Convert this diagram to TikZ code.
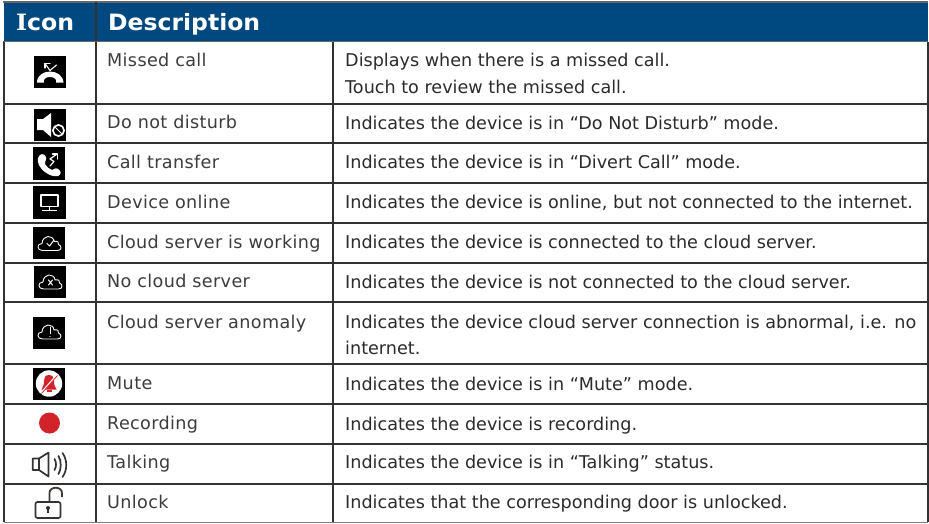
\documentclass[tikz,border=0pt]{standalone}
\usepackage{graphicx}
\usepackage{fontspec}
\setmainfont{DejaVu Sans}
\newfontfamily\serifcap[Scale=1]{DejaVu Serif}
\newfontfamily\spaced[LetterSpace=2]{DejaVu Sans}
\definecolor{hdr}{HTML}{004880}
\definecolor{ln}{HTML}{333132}
\definecolor{txt}{HTML}{2B2B2B}
\definecolor{txtb}{HTML}{3C3C3C}
\definecolor{redc}{HTML}{D2232A}
\newcommand{\fitw}[2]{\resizebox{#1pt}{\height}{#2}}
\tikzset{
 gridline/.style={ln,line width=2pt},
 hd/.style={anchor=base west,text=white,font=\fontsize{22.5}{26}\bfseries,inner sep=0pt},
 cell/.style={anchor=base west,text=txt,font=\fontsize{17.6}{20}\selectfont,inner sep=0pt},
 itemname/.style={anchor=base west,text=txtb,font=\fontsize{17.6}{20}\spaced,inner sep=0pt},
 ibox/.style={fill=black,draw=none},
 wl/.style={draw=white,line width=1pt,line cap=round,line join=round},
 wf/.style={fill=white,draw=none},
 dk/.style={ln,line width=1.7pt,line cap=round,line join=round},
 cloudshape/.pic={\draw[wl,line width=.9pt,fill=black] (-7,7) .. controls (-13,7) and (-13,0) .. (-7.5,0) .. controls (-7,-9) and (4,-9) .. (4.5,-2) .. controls (8,-3) and (10,-1) .. (9,1) .. controls (12.5,2) and (12.5,7) .. (8,7) -- cycle;}
}
\begin{document}
\begin{tikzpicture}[x=1pt,y=-1pt]
\useasboundingbox (0,0) rectangle (929,523);
\fill[white] (0,0) rectangle (929,523);
\fill[hdr] (4,2) rectangle (928,41);
\draw[gray!80!black,line width=1.4pt] (3,2) -- (928,2);
\draw[gray!80!black,line width=1.4pt] (3,41.7) -- (928,41.7);
\draw[ln,line width=1.4pt] (96,2) -- (96,41);
\node[hd] (hicon) at (16,30.5) {\fitw{58}{{\serifcap I}con}};
\node[hd] (hdesc) at (108,30.5) {\fitw{152}{Description}};
% grid
\foreach \y in {103.8,143.3,183.3,223.3,262.8,302.4,364.3,404.3,444.3,484}
  \draw[gridline] (4,\y) -- (928,\y);
\draw[gray,line width=1pt] (4,522.5) -- (928,522.5);
\foreach \x in {4.3,96,333,927.7}
  \draw[gridline] (\x,42) -- (\x,522);
% texts
\node[itemname] (a1) at (107,66.3) {Missed call};
\node[cell] (d1) at (345,66.6) {Displays when there is a missed call.};
\node[cell] (d1b) at (345,93.6) {Touch to review the missed call.};
\node[itemname] (a2) at (107,128.3) {Do not disturb};
\node[cell] (d2) at (345,129) {Indicates the device is in “Do Not Disturb” mode.};
\node[itemname] (a3) at (107,168) {Call transfer};
\node[cell] (d3) at (345,168.5) {Indicates the device is in “Divert Call” mode.};
\node[itemname] (a4) at (107,208.2) {Device online};
\node[cell] (d4) at (345,208.7) {Indicates the device is online, but not connected to the internet.};
\node[itemname] (a5) at (107,248) {Cloud server is working};
\node[cell] (d5) at (345,248.2) {Indicates the device is connected to the cloud server.};
\node[itemname] (a6) at (107,287.7) {No cloud server};
\node[cell] (d6) at (345,288) {Indicates the device is not connected to the cloud server.};
\node[itemname] (a7) at (107,328) {Cloud server anomaly};
\node[cell] (d7) at (345,328) {Indicates the device cloud server connection is abnormal, i.e. no};
\node[cell] (d7b) at (345,354.5) {internet.};
\node[itemname] (a8) at (107,389.3) {Mute};
\node[cell] (d8) at (345,390) {Indicates the device is in “Mute” mode.};
\node[itemname] (a9) at (107,429.3) {Recording};
\node[cell] (d9) at (345,430) {Indicates the device is recording.};
\node[itemname] (a10) at (107,468.3) {Talking};
\node[cell] (d10) at (345,468.6) {Indicates the device is in “Talking” status.};
\node[itemname] (a11) at (107,508.3) {Unlock};
\node[cell] (d11) at (345,508.8) {Indicates that the corresponding door is unlocked.};
% icon 1 missed call
\fill[ibox] (34,56) rectangle (66,88);
\fill[wf] (37,82.5) .. controls (37,75) and (44,71.5) .. (50,71.5) .. controls (56,71.5) and (63,75) .. (63.5,82.5) -- (56,82.5) .. controls (57,79) and (54,77) .. (50,77) .. controls (46,77) and (43,79) .. (44,82.5) -- cycle;
\draw[wl,line width=1.1pt] (56.5,65) -- (50,70.5) -- (45,63.5);
\draw[wl,line width=1.1pt] (45,63.5) -- (45,68) (45,63.5) -- (50,63.5);
% icon 2 dnd
\fill[ibox] (34,109) rectangle (66,141);
\fill[wf] (37,119) -- (43,119) -- (51,113) -- (51,137) -- (43,130) -- (37,130) -- cycle;
\draw[white,fill=black,line width=1.6pt] (58.5,130.5) circle (5.6);
\draw[white,line width=1pt] (54.5,126.5) -- (62.5,134.5);
% icon 3 transfer
\fill[ibox] (33,147) rectangle (65,180);
\fill[wf] (38,158) .. controls (40,153) and (44,153) .. (46,157) .. controls (47,161) and (44,161) .. (45,164) .. controls (47,167) and (49,169) .. (52,170) .. controls (54,170) and (55,167) .. (58,169) .. controls (62,171) and (61,175) .. (58,176) .. controls (50,178) and (36,168) .. (38,158) -- cycle;
\draw[wl,line width=1.2pt] (50,166) -- (54,161.5) -- (50,159) -- (57,154);
\draw[wl,line width=1.2pt] (52.5,154) -- (57.5,154) -- (57.5,159);
% icon 4 online
\fill[ibox] (33,186) rectangle (66,219);
\draw[wl,line width=1.1pt,line cap=butt] (41,195) rectangle (58,206.5);
\draw[wl,line width=1pt,line cap=butt] (49.5,206.5) -- (49.5,210) (42,210.2) -- (57,210.2);
% icon 5 cloud check
\fill[ibox] (33,227) rectangle (65,259);
\pic at (49.5,243.5) {cloudshape};
\draw[wl] (47,243.5) -- (49.5,246) -- (54,240);
% icon 6 cloud x
\fill[ibox] (34,266) rectangle (66,298);
\pic at (50.5,282) {cloudshape};
\draw[wl] (48.5,280) -- (52.5,285) (52.5,280) -- (48.5,285);
% icon 7 cloud !
\fill[ibox] (33,317) rectangle (65,349);
\pic at (49.5,332) {cloudshape};
\draw[wl] (50,327) -- (50,333.5);
\fill[white] (50,336.5) circle (.7);
% icon 8 mute
\fill[ibox] (33,368) rectangle (65,400);
\fill[white] (49,383.5) circle (13.2);
\fill[redc] (49,375) .. controls (45,375) and (44,378) .. (44,381) .. controls (44,385) and (43,387) .. (41.5,389.5) -- (56.5,389.5) .. controls (55,387) and (54,385) .. (54,381) .. controls (54,378) and (53,375) .. (49,375) -- cycle;
\fill[redc] (46.5,390.3) rectangle (51.5,392.3);
\draw[white,line width=1.6pt] (41,393) -- (57,375);
\draw[redc,line width=.7pt] (41.5,393.5) -- (57.5,375.5);
% icon 9 recording
\fill[redc] (49.5,423) circle (10.5);
% icon 10 talking
\draw[dk] (32.8,458.5) -- (39,458.5) -- (48.5,452.5) -- (48.5,476.5) -- (39,470) -- (32.8,470) -- cycle;
\draw[dk] (39,458.5) -- (39,470);
\draw[dk] (54.5,459) .. controls (56.5,462) and (56.5,467) .. (54.5,470);
\draw[dk] (58.5,456) .. controls (61.5,461) and (61.5,469) .. (58.5,474);
\draw[dk] (62.5,453) .. controls (67.5,460) and (67.5,470) .. (62.5,477);
% icon 11 unlock
\draw[ln,line width=1.6pt,rounded corners=2pt] (35.5,502) rectangle (60.5,518);
\draw[ln!90!brown,line width=1.8pt] (49.5,502) -- (49.5,493) .. controls (49.5,486) and (62,486) .. (62,493) -- (62,497);
\fill[ln] (48,508) circle (2);
\fill[ln] (47.3,508.5) rectangle (48.7,512.5);
\end{tikzpicture}
\end{document}
